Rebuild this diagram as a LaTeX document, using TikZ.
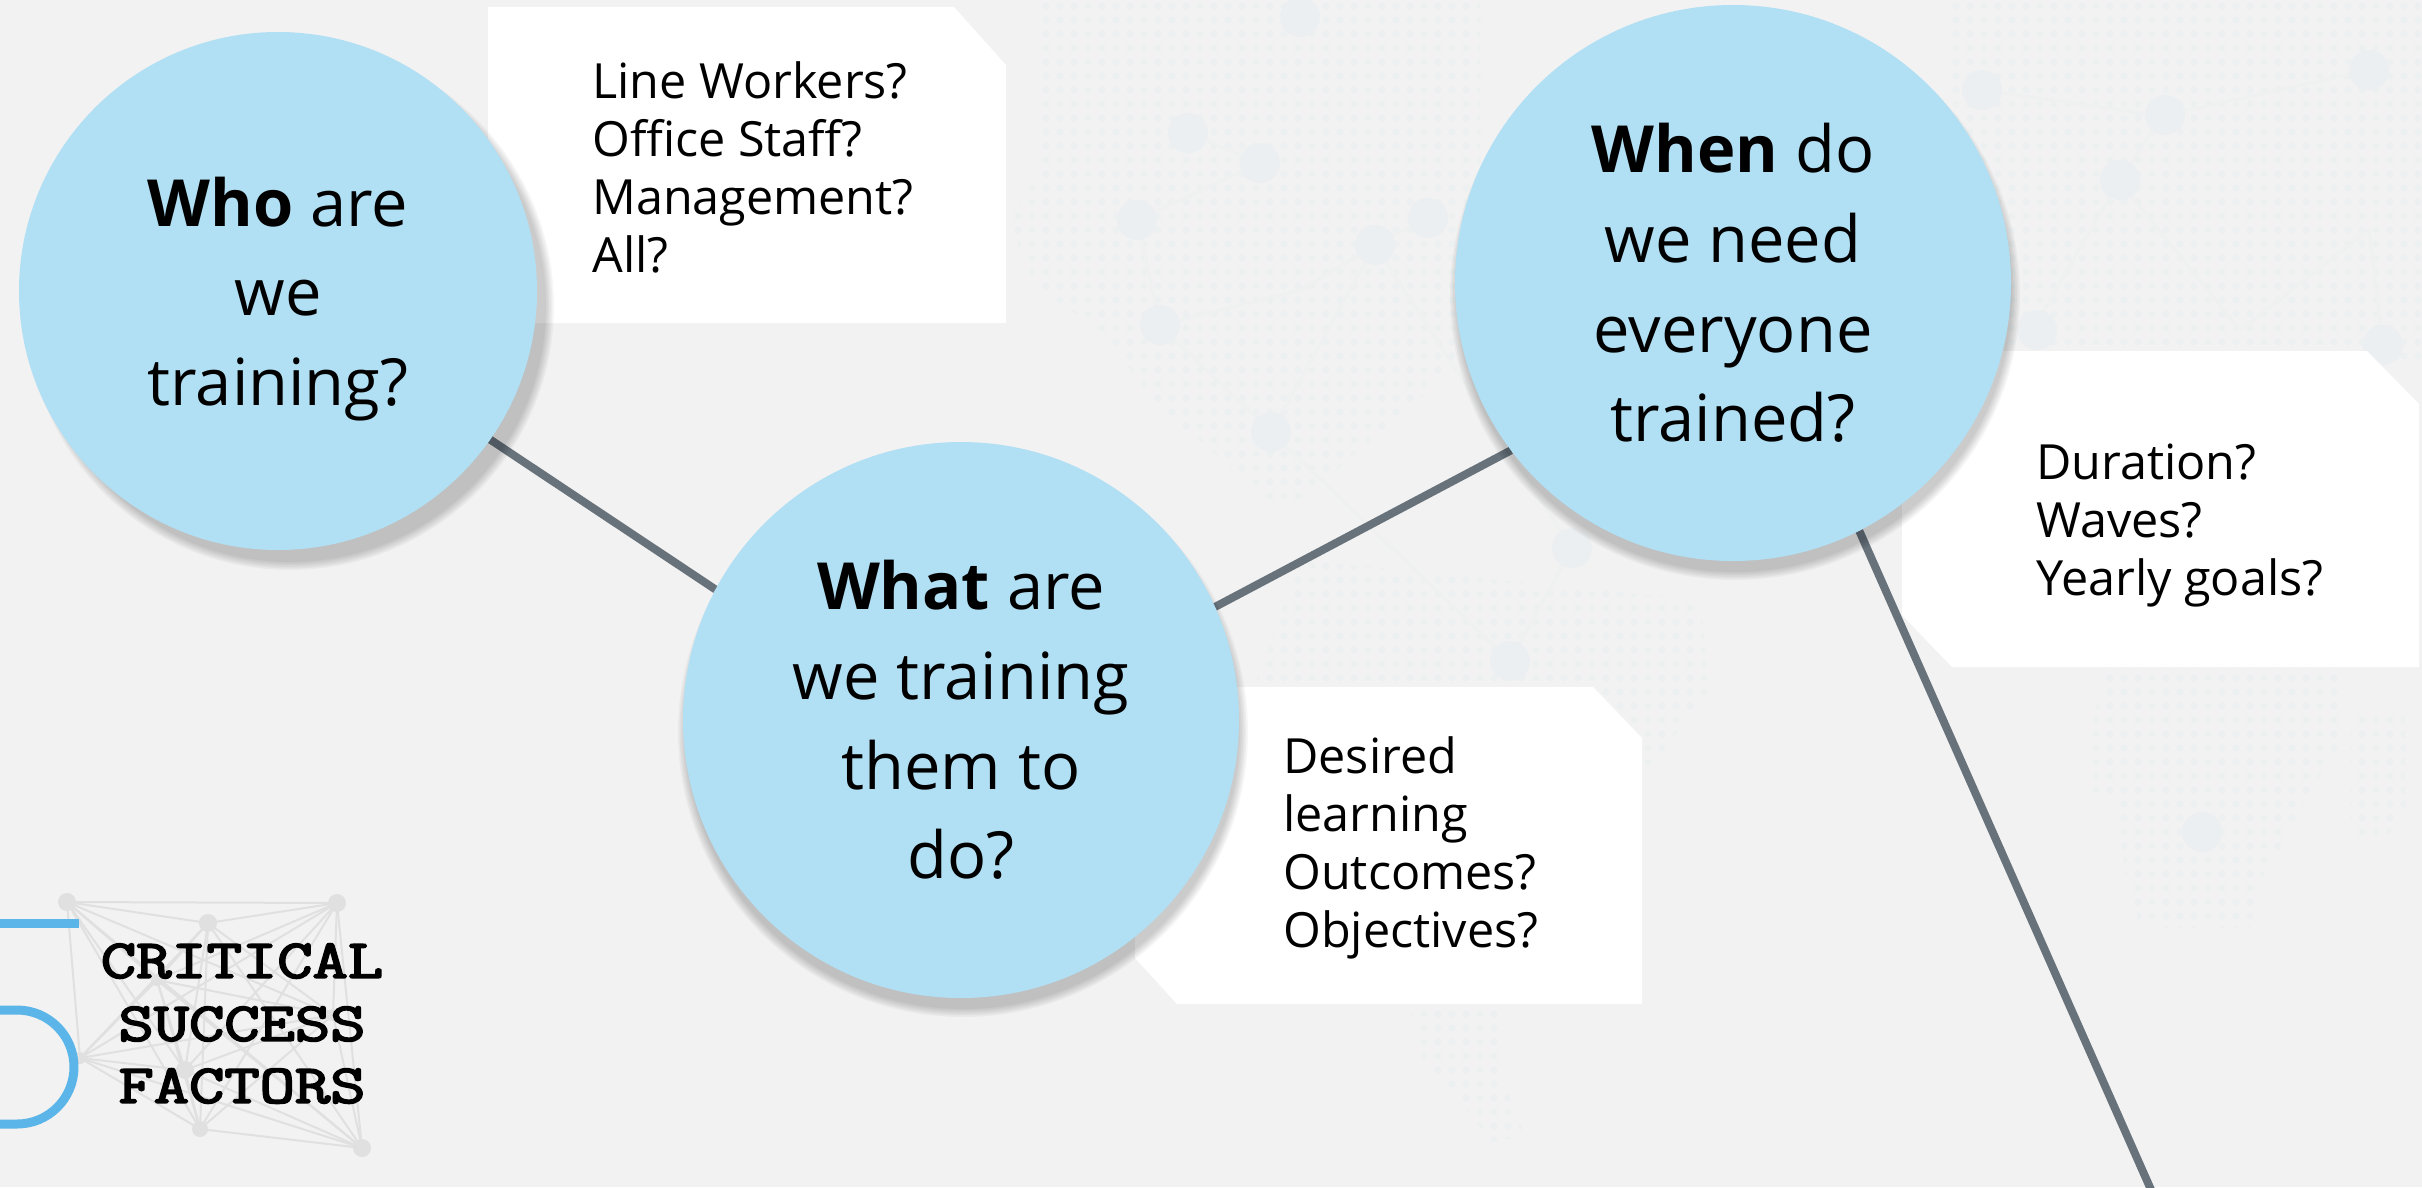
\documentclass[tikz,border=0pt]{standalone}
\usepackage{fontspec}
\setmainfont{Open Sans}
\newfontfamily\logofont[FakeBold=3]{Latin Modern Mono}
\usetikzlibrary{calc}
\definecolor{pagebg}{HTML}{F2F2F2}
\definecolor{bubble}{HTML}{B1DFF3}
\definecolor{linkcol}{HTML}{67727B}
\definecolor{logoblue}{HTML}{5BB5E8}
\definecolor{logonet}{HTML}{E0E0E0}
\definecolor{bgdot}{HTML}{EDF0F0}
\definecolor{bgnode}{HTML}{EBEFF1}
\definecolor{bgline}{HTML}{EFF0F0}
\def\px{0.02cm}
\pgfdeclarelayer{backlayer}
\pgfdeclarelayer{linelayer}
\pgfdeclarelayer{shadowlayer}
\pgfsetlayers{backlayer,linelayer,shadowlayer,main}
\tikzset{
  bubblenode/.style={circle,fill=bubble,inner sep=0pt,outer sep=0pt,align=center,text=black,
    font=\fontsize{37}{51}\selectfont},
  bubbletext/.style={inner sep=0pt,align=center,text=black,font=\fontsize{37}{51}\selectfont},
  notetext/.style={anchor=north west,inner sep=0pt,align=left,text=black,
    font=\fontsize{27.6}{33}\selectfont},
  notebox/.style={fill=white},
  linkline/.style={draw=linkcol,line width={8*\px}},
  logotext/.style={inner sep=0pt,text=black},
  netedge/.style={draw=logonet,line width={2*\px}},
}
\newcommand{\dotpatch}[3]{%
  \begin{scope}
    \clip #3;
    \foreach \dx in {#1} { \foreach \dy in {#2} { \fill[bgdot] (\dx,\dy) circle[radius={3.5*\px}]; } }
  \end{scope}}
\newcommand{\logoline}[1]{\scalebox{1}[0.8]{\logofont\fontsize{39}{39}\selectfont #1}}
\begin{document}
\begin{tikzpicture}[x=\px,y=-\px]
\useasboundingbox (0,0) rectangle (2422,1187);
% main nodes
\node[bubblenode,minimum size={518*\px}] (who) at (278,291) {};
\node[bubbletext] (whotext) at (278,299) {\textbf{Who} are\\we\\training?};
\node[bubblenode,minimum size={556*\px}] (what) at (961,720) {\textbf{What} are\\we training\\them to\\do?};
\node[bubblenode,minimum size={556*\px}] (when) at (1733,283) {\textbf{When} do\\we need\\everyone\\trained?};
\coordinate (offpage) at (2152,1192);
% note text
\node[notetext] (notewho) at (592,61) {Line Workers?\\Office Staff?\\Management?\\All?};
\node[notetext] (notewhat) at (1283,736) {Desired\\learning\\Outcomes?\\Objectives?};
\node[notetext] (notewhen) at (2036,444) {Duration?\\Waves?\\Yearly goals?};
% logo text
\node[logotext] (logoa) at (242,961) {\logoline{CRITICAL}};
\node[logotext] (logob) at (242,1024) {\logoline{SUCCESS}};
\node[logotext] (logoc) at (242,1086) {\logoline{FACTORS}};

\begin{pgfonlayer}{backlayer}
\fill[pagebg] (0,0) rectangle (2422,1187);
% faint background network
\dotpatch{1004,1018,...,1480}{6,20,...,500}{(1040,0)--(1480,0)--(1480,330)--(1420,400)--(1300,500)--(1270,500)--(1150,400)--(1110,340)--(1030,280)--(1010,220)--(1040,170)--cycle}
\dotpatch{1242,1256,...,1750}{566,580,...,1150}{(1300,560)--(1700,600)--(1710,690)--(1640,780)--(1640,1004)--(1505,1004)--(1505,1085)--(1525,1136)--(1490,1142)--(1460,1100)--(1420,1055)--(1410,1004)--(1250,700)--cycle}
\dotpatch{1942,1956,...,2422}{6,20,...,360}{(1945,0)--(2422,0)--(2422,360)--(1945,360)--cycle}
\dotpatch{2082,2096,...,2350}{664,678,...,930}{(2100,667)--(2340,667)--(2345,740)--(2310,790)--(2285,840)--(2260,880)--(2250,928)--(2140,928)--(2125,870)--(2115,800)--(2085,790)--(2085,730)--(2100,700)--cycle}
\dotpatch{2348,2362,...,2410}{706,720,...,850}{(2350,710)--(2405,710)--(2405,810)--(2385,840)--(2350,845)--cycle}
\draw[bgline,line width={3*\px}] (1137,220)--(1260,163)--(1188,133) (1137,220)--(1160,325)--(1271,432)--(1375,245)--(1428,218) (1160,325)--(1300,290)--(1375,245) (1271,432)--(1510,661)--(1572,548)--(1375,245)
  (1982,90)--(2162,116)--(2369,70) (2119,181)--(2162,116) (2119,181)--(2036,324) (2119,181)--(2240,330)--(2369,230)--(2383,345);
\fill[bgnode] (1300,17) circle[radius={20*\px}] (1188,133) circle[radius={20*\px}] (1260,163) circle[radius={20*\px}]
  (1137,220) circle[radius={20*\px}] (1160,325) circle[radius={20*\px}] (1375,245) circle[radius={20*\px}]
  (1428,218) circle[radius={20*\px}] (1271,432) circle[radius={20*\px}] (2369,70) circle[radius={20*\px}]
  (2165,115) circle[radius={20*\px}] (2120,180) circle[radius={20*\px}] (2037,330) circle[radius={20*\px}]
  (2383,345) circle[radius={20*\px}] (2202,832) circle[radius={20*\px}] (1982,90) circle[radius={20*\px}]
  (1572,548) circle[radius={20*\px}] (1510,661) circle[radius={20*\px}];
% note boxes
\fill[notebox] (488,7)--(954,7)--(1006,65)--(1006,323)--(488,323)--cycle;
\fill[notebox] (1135,687)--(1593,687)--(1642,738)--(1642,1004)--(1177,1004)--(1135,958)--cycle;
\fill[notebox] (1902,351)--(2367,351)--(2419,404)--(2419,667)--(1952,667)--(1902,615)--cycle;
% logo
\foreach \a/\b in {67/902,208/923,337/903,157/980,333/1015,80/1058,185/1070,200/1129,362/1148}{
  \foreach \c/\d in {67/902,208/923,337/903,157/980,333/1015,80/1058,185/1070,200/1129,362/1148}{
    \ifnum\a<\c \draw[netedge] (\a,\b)--(\c,\d); \fi}}
\fill[logonet] (67,902) circle[radius={9*\px}] (208,923) circle[radius={9*\px}] (337,903) circle[radius={9*\px}]
  (157,980) circle[radius={6*\px}] (333,1015) circle[radius={6*\px}] (80,1058) circle[radius={6*\px}]
  (185,1070) circle[radius={9*\px}] (200,1129) circle[radius={8*\px}] (362,1148) circle[radius={9*\px}];
\draw[logoblue,line width={9*\px}] (0,923)--(79,923);
\draw[logoblue,line width={9*\px}] (0,1010)--(17,1010) .. controls (48.5,1010) and (74,1035.5) .. (74,1067) .. controls (74,1098.5) and (48.5,1124) .. (17,1124)--(0,1124);
\end{pgfonlayer}

\begin{pgfonlayer}{linelayer}
\draw[linkline] (who.-35.7)--(what.152.5);
\draw[linkline] (what.24)--(when.217.7);
\draw[linkline] (when.-63.8)--(offpage);
\end{pgfonlayer}

\begin{pgfonlayer}{shadowlayer}
\foreach \k in {0,1,2,3,4,5}{
  \fill[black,opacity=0.036] ($(who)+(12,15)$) circle[radius={(264-1.6*\k)*\px}];
  \fill[black,opacity=0.036] ($(what)+(2,12)$) circle[radius={(285-1.6*\k)*\px}];
  \fill[black,opacity=0.036] ($(when)+(2,12)$) circle[radius={(285-1.6*\k)*\px}];
}
\end{pgfonlayer}
\end{tikzpicture}
\end{document}
